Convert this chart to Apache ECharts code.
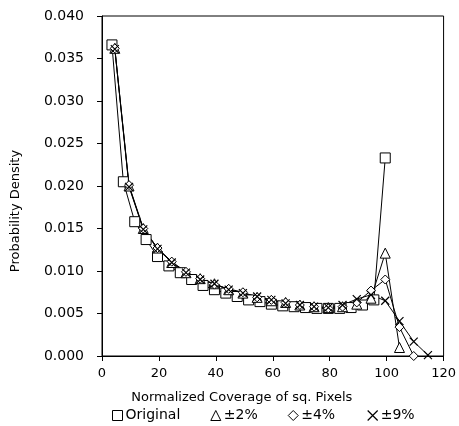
<!DOCTYPE html>
<html>
<head>
<meta charset="utf-8">
<script src="https://cdn.jsdelivr.net/npm/echarts@6/dist/echarts.min.js"></script>
<style>html,body{margin:0;padding:0;background:#fff}#c{width:459px;height:426px}</style>
</head>
<body>
<div id="c"></div>
<script>
// Original (square markers)
const origX = [3.5, 7.5, 11.5, 15.5, 19.5, 23.5, 27.5, 31.5, 35.5, 39.5, 43.5, 47.5, 51.5, 55.5, 59.5, 63.5, 67.5, 71.5, 75.5, 79.5, 83.5, 87.5, 91.5, 95.5, 99.5];
const origY = [0.0366, 0.0205, 0.0158, 0.0137, 0.0117, 0.0106, 0.0098, 0.0090, 0.0083, 0.0078, 0.0074, 0.0070, 0.0066, 0.0064, 0.0061, 0.0059, 0.0058, 0.0057, 0.0056, 0.0056, 0.0056, 0.0057, 0.0060, 0.0066, 0.0233];
// Perturbed series share x positions
const devX = [4.5, 9.5, 14.5, 19.5, 24.5, 29.5, 34.5, 39.5, 44.5, 49.5, 54.5, 59.5, 64.5, 69.5, 74.5, 79.5, 84.5, 89.5, 94.5, 99.5, 104.5, 109.5, 114.5];
const plus2Y = [0.0362, 0.0200, 0.0150, 0.0127, 0.0110, 0.0098, 0.0091, 0.0085, 0.0078, 0.0074, 0.0069, 0.0065, 0.0063, 0.0060, 0.0058, 0.0057, 0.0058, 0.0061, 0.0068, 0.0121, 0.0010];
const plus4Y = [0.0362, 0.0201, 0.0150, 0.0127, 0.0111, 0.0099, 0.0091, 0.0084, 0.0079, 0.0075, 0.0069, 0.0066, 0.0063, 0.0060, 0.0058, 0.0056, 0.0058, 0.0063, 0.0077, 0.0090, 0.0034, 0.0000];
const plus9Y = [0.0361, 0.0199, 0.0149, 0.0126, 0.0110, 0.0098, 0.0090, 0.0085, 0.0078, 0.0074, 0.0070, 0.0066, 0.0062, 0.0060, 0.0058, 0.0057, 0.0060, 0.0067, 0.0072, 0.0065, 0.0041, 0.0017, 0.0001];
const xTicks = [0, 20, 40, 60, 80, 100, 120];
const yTicks = [0, 0.005, 0.010, 0.015, 0.020, 0.025, 0.030, 0.035, 0.040];
const names = ['Original', '±2%', '±4%', '±9%'];

const zip = (xs, ys) => ys.map((y, i) => [xs[i], y]);
const FONT = 'DejaVu Sans';
const xPath = 'path://M0,0L10,10M10,0L0,10';
const mk = {color: '#fff', borderColor: '#000', borderWidth: 1};

function series(name, data, symbol, size) {
  return {
    name, type: 'line', data, symbol, symbolSize: size, showSymbol: true,
    lineStyle: {color: '#000', width: 1},
    itemStyle: symbol === xPath ? {color: 'none', borderColor: '#000', borderWidth: 1.2} : mk,
    animation: false, z: 2
  };
}

const chart = echarts.init(document.getElementById('c'));
chart.setOption({
  animation: false,
  grid: {left: 102, right: 12, top: 16, bottom: 70, show: true, borderColor: '#000', borderWidth: 1},
  xAxis: {
    type: 'value', min: xTicks[0], max: xTicks[xTicks.length - 1], interval: 20,
    name: 'Normalized Coverage of sq. Pixels', nameLocation: 'middle', nameGap: 35,
    nameTextStyle: {fontFamily: FONT, fontSize: 13, color: '#000', padding: [0, 62, 0, 0]},
    axisLine: {lineStyle: {color: '#000'}},
    axisTick: {length: 5, lineStyle: {color: '#000'}},
    axisLabel: {fontFamily: FONT, fontSize: 13, color: '#000', margin: 11},
    splitLine: {show: false}
  },
  yAxis: {
    type: 'value', min: yTicks[0], max: yTicks[yTicks.length - 1], interval: 0.005,
    name: 'Probability Density', nameLocation: 'middle', nameGap: 80,
    nameTextStyle: {fontFamily: FONT, fontSize: 13, color: '#000', padding: [0, 50, 0, 0]},
    axisLine: {lineStyle: {color: '#000'}},
    axisTick: {length: 5, lineStyle: {color: '#000'}},
    axisLabel: {fontFamily: FONT, fontSize: 14, color: '#000', margin: 18, formatter: v => v.toFixed(3)},
    splitLine: {show: false}
  },
  legend: {
    top: 408, left: 112, padding: 0, itemGap: 30, itemWidth: 10, itemHeight: 10,
    textStyle: {fontFamily: FONT, fontSize: 14, color: '#000', padding: [0, 0, 0, -2]},
    data: [
      {name: names[0], icon: 'rect', itemStyle: mk},
      {name: names[1], icon: 'triangle', itemStyle: mk},
      {name: names[2], icon: 'diamond', itemStyle: mk},
      {name: names[3], icon: xPath, itemStyle: {color: 'none', borderColor: '#000', borderWidth: 1.2}}
    ]
  },
  series: [
    series(names[0], zip(origX, origY), 'rect', 10),
    series(names[1], zip(devX, plus2Y), 'triangle', 10),
    series(names[2], zip(devX, plus4Y), 'diamond', 9),
    series(names[3], zip(devX, plus9Y), xPath, 8)
  ]
});
</script>
</body>
</html>
